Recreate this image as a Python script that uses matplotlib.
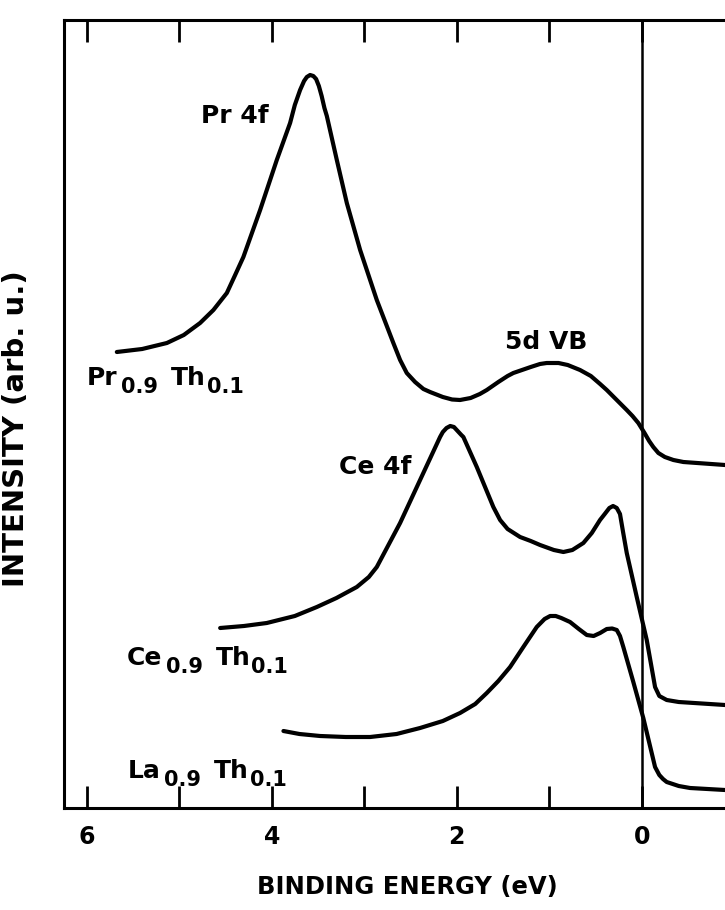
import matplotlib
matplotlib.use("Agg")
import matplotlib.pyplot as plt
from matplotlib.ticker import FixedLocator

# ---- data (binding energy in eV, intensity in arbitrary units) ----
pr_energy = [5.674, 5.40, 5.133, 4.95, 4.774, 4.63, 4.485, 4.40, 4.306, 4.125,
             3.945, 3.801, 3.75, 3.693, 3.65, 3.62, 3.585, 3.55, 3.52, 3.49,
             3.46, 3.43, 3.404, 3.296, 3.188, 3.044, 2.864, 2.685, 2.612, 2.540,
             2.45, 2.36, 2.288, 2.15, 2.05, 1.964, 1.85, 1.75, 1.675, 1.55,
             1.45, 1.388, 1.20, 1.10, 1.027, 0.90, 0.80, 0.667, 0.55, 0.45,
             0.378, 0.27, 0.162, 0.10, 0.037, -0.03, -0.08, -0.125, -0.18, -0.25,
             -0.342, -0.45, -0.900]
pr_intensity = [456, 459, 465, 473, 485, 498, 515, 532, 551, 598,
                648, 685, 703, 718, 727, 731, 733, 732, 729, 722,
                712, 700, 692, 648, 605, 558, 508, 465, 448, 435,
                426, 419, 416, 411, 408.5, 408, 410, 414, 418, 426,
                432, 435, 441, 444, 445, 445, 443, 438, 432, 424,
                418, 408, 398, 392, 385, 375, 367, 361, 355, 351,
                348, 346, 343]

ce_energy = [4.557, 4.30, 4.053, 3.75, 3.512, 3.30, 3.080, 2.95, 2.864, 2.612,
             2.396, 2.180, 2.15, 2.11, 2.07, 2.03, 1.99, 1.95, 1.928, 1.783,
             1.604, 1.531, 1.45, 1.315, 1.20, 1.099, 0.95, 0.847, 0.75, 0.631,
             0.54, 0.451, 0.40, 0.35, 0.31, 0.27, 0.235, 0.20, 0.162, 0.054,
             -0.054, -0.144, -0.19, -0.27, -0.40, -0.900]
ce_intensity = [180, 182, 185, 192, 201, 210, 221, 231, 241, 285,
                328, 371, 376, 380, 382, 381, 377, 373, 371, 341,
                301, 288, 279, 271, 267, 263, 258, 256, 258, 265,
                275, 288, 294, 300, 302, 300, 294, 275, 255, 211,
                168, 121, 112, 108, 106, 103]

la_energy = [3.873, 3.70, 3.477, 3.20, 2.936, 2.65, 2.396, 2.15, 1.964, 1.80,
             1.675, 1.55, 1.423, 1.28, 1.135, 1.05, 0.99, 0.93, 0.87, 0.775,
             0.68, 0.594, 0.52, 0.45, 0.378, 0.32, 0.27, 0.235, 0.199, 0.091,
             -0.017, -0.144, -0.19, -0.23, -0.27, -0.40, -0.522, -0.900]
la_intensity = [77, 74, 72, 71, 71, 74, 80, 87, 95, 104,
                115, 127, 141, 161, 181, 189, 192, 192, 190, 186,
                179, 173, 172, 175, 179, 179.5, 178, 172, 161, 126,
                90, 41, 33, 29, 26, 22, 20, 18]

xtick_values = [6, 4, 2, 0]
xtick_labels = ["6", "4", "2", "0"]
minor_tick_values = [5, 3, 1]

# ---- figure ----
fig = plt.figure(figsize=(7.25, 9.10), dpi=100)
W, H = 725, 910
left_px, right_px, top_px, bottom_px = 64, 725, 20, 808
ax = fig.add_axes([left_px / W, 1 - bottom_px / H,
                   (right_px - left_px) / W, (bottom_px - top_px) / H])

lw = 3.0
for e, i in [(pr_energy, pr_intensity), (ce_energy, ce_intensity), (la_energy, la_intensity)]:
    ax.plot(e, i, color="black", lw=lw, solid_joinstyle="round",
            solid_capstyle="round")

ax.axvline(0, color="black", lw=1.8)

ax.set_xlim(6.245, -0.90)
ax.set_ylim(0, 788)

for side in ["left", "bottom", "top"]:
    ax.spines[side].set_linewidth(2.2)
ax.spines["right"].set_visible(False)

ax.xaxis.set_major_locator(FixedLocator(xtick_values))
ax.set_xticklabels(xtick_labels)
ax.xaxis.set_minor_locator(FixedLocator(minor_tick_values))
ax.tick_params(axis="x", which="both", direction="in", top=True, bottom=True,
               length=16, width=2.0, pad=12, labelsize=17)
ax.set_yticks([])
for lab in ax.get_xticklabels():
    lab.set_fontweight("bold")

ax.set_xlabel("BINDING ENERGY (eV)", fontsize=17.5, fontweight="bold")
ax.xaxis.set_label_coords(0.519, -0.085)
ax.set_ylabel("INTENSITY (arb. u.)", fontsize=21, fontweight="bold")
ax.yaxis.set_label_coords(-0.051, 0.482)

tk = dict(fontsize=18, fontweight="bold", color="black")
ax.text(4.395, 692, "Pr 4f", ha="center", va="center", **tk)
ax.text(1.03, 466, "5d VB", ha="center", va="center", **tk)
ax.text(2.882, 341, "Ce 4f", ha="center", va="center", **tk)

renderer = fig.canvas.get_renderer()


def compound_label(x, y, parts):
    """parts: list of (text, is_subscript, gap_px_before)"""
    off_px = 0.0
    for txt, sub, gap in parts:
        off_px += gap
        t = ax.annotate(txt, (x, y), xytext=(off_px * 72 / fig.dpi, -5.8 if sub else 0),
                        textcoords="offset points", ha="left", va="baseline",
                        fontsize=15 if sub else 18, fontweight="bold", color="black")
        bb = t.get_window_extent(renderer)
        off_px += bb.width


compound_label(5.996, 423, [("Pr", False, 0), ("0.9", True, 3), ("Th", False, 13), ("0.1", True, 1)])
compound_label(5.562, 143, [("Ce", False, 0), ("0.9", True, 3), ("Th", False, 13), ("0.1", True, 1)])
compound_label(5.552, 30, [("La", False, 0), ("0.9", True, 3), ("Th", False, 13), ("0.1", True, 1)])

fig.savefig("out.png", dpi=100)
